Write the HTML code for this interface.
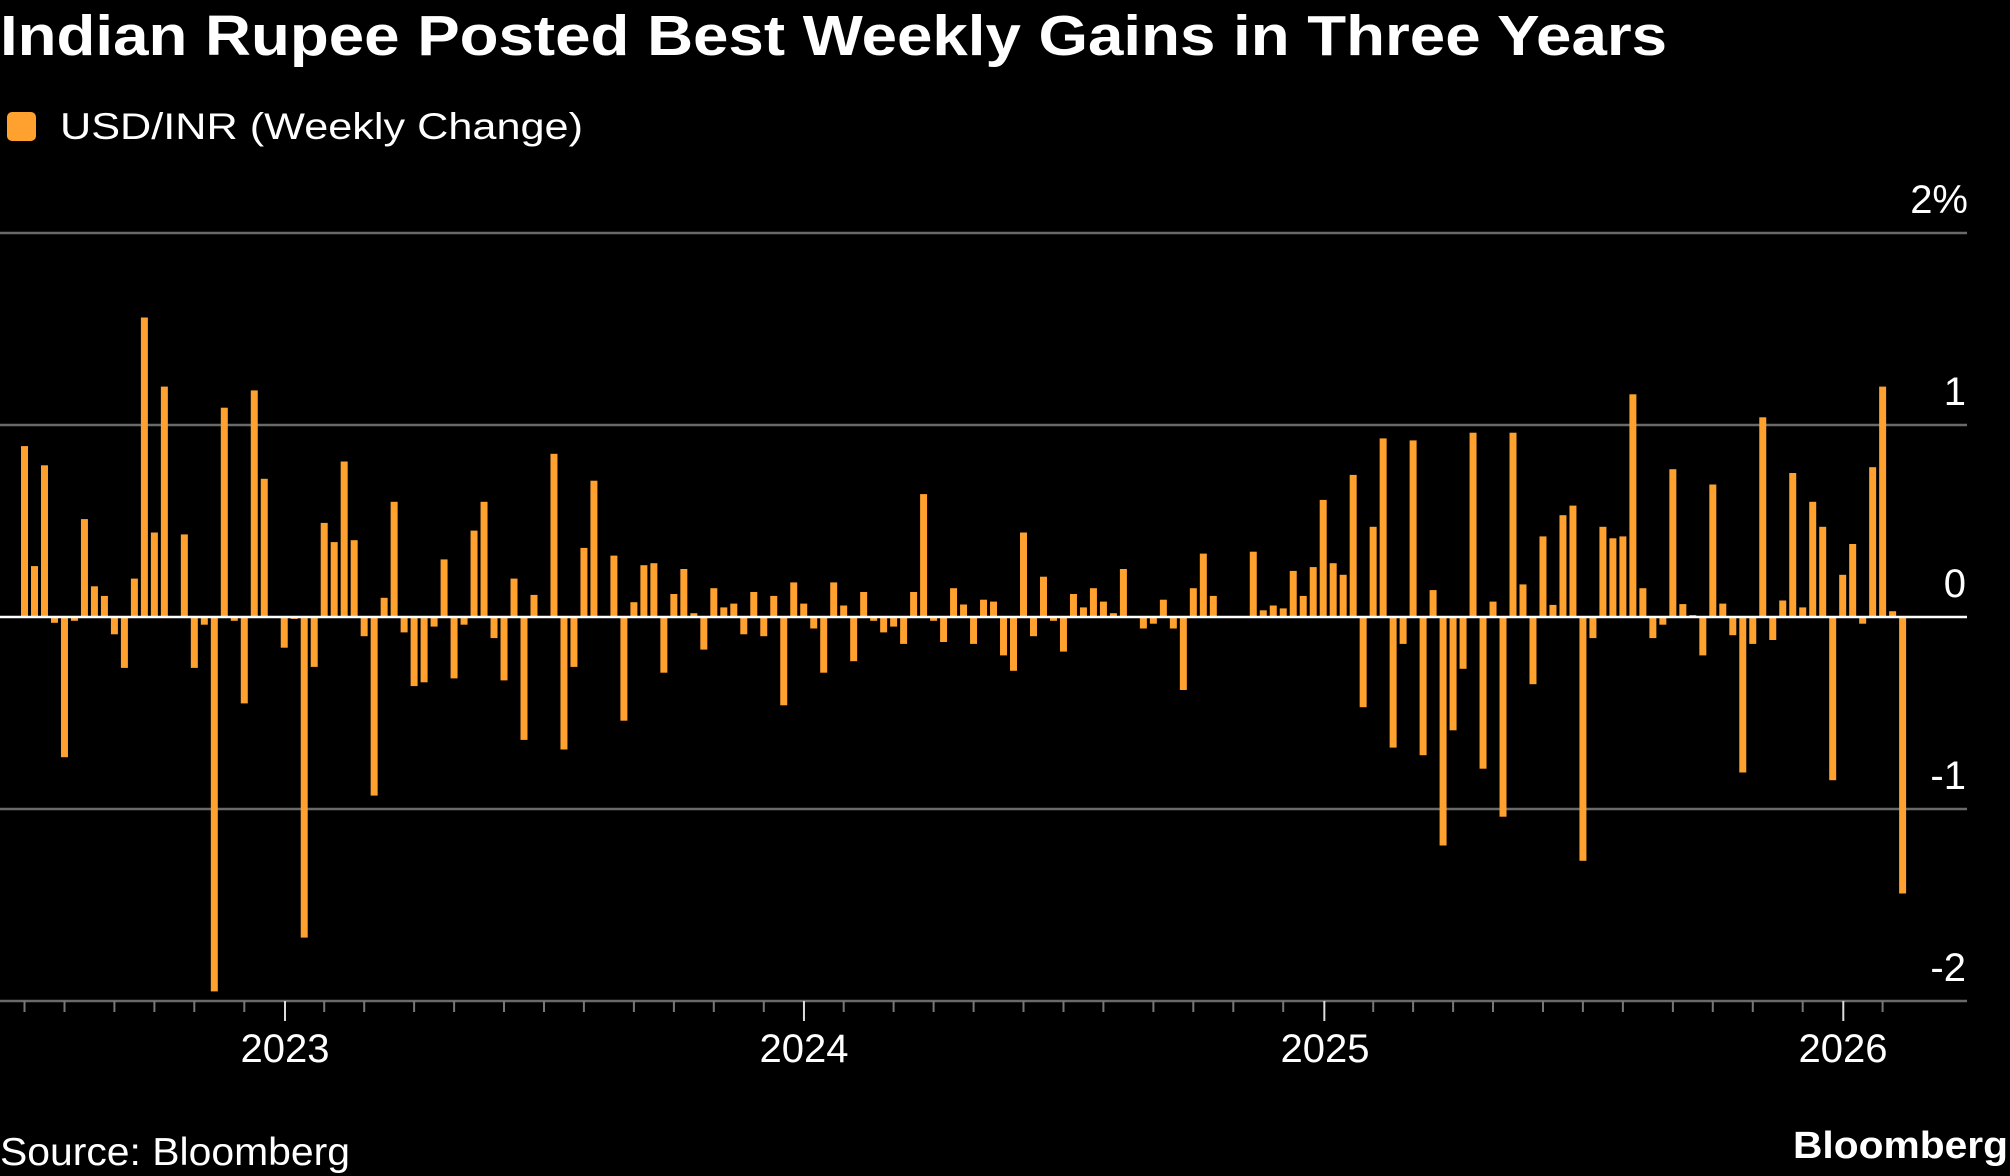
<!DOCTYPE html>
<html><head><meta charset="utf-8"><style>
html,body{margin:0;padding:0;background:#000;}
svg{display:block;}
text{font-family:"Liberation Sans",sans-serif;fill:#fff;}
</style></head><body>
<svg id="c" width="2010" height="1176" viewBox="0 0 2010 1176" xmlns="http://www.w3.org/2000/svg">
<rect width="2010" height="1176" fill="#000"/>
<text x="0" y="55" font-size="57" font-weight="bold" textLength="1667" lengthAdjust="spacingAndGlyphs">Indian Rupee Posted Best Weekly Gains in Three Years</text>
<rect x="7" y="112" width="29" height="29" rx="5" fill="#FFA12E"/>
<text x="60" y="139" font-size="37" textLength="523" lengthAdjust="spacingAndGlyphs">USD/INR (Weekly Change)</text>
<g stroke="#6a6a6a" stroke-width="2.5">
<line x1="0" y1="233" x2="1967" y2="233"/>
<line x1="0" y1="425" x2="1967" y2="425"/>
<line x1="0" y1="809" x2="1967" y2="809"/>
<line x1="0" y1="1001" x2="1967" y2="1001"/>
</g>
<g font-size="40" text-anchor="end">
<text x="1968" y="213">2%</text>
<text x="1966" y="405">1</text>
<text x="1966" y="597">0</text>
<text x="1966" y="789">-1</text>
<text x="1966" y="981">-2</text>
</g>
<g id="bars" fill="#FFA12E"></g>
<line x1="0" y1="617" x2="1967" y2="617" stroke="#fff" stroke-width="2.5"/>
<g id="ticks"></g>
<g font-size="40" text-anchor="middle">
<text x="285" y="1062">2023</text>
<text x="804" y="1062">2024</text>
<text x="1325" y="1062">2025</text>
<text x="1843" y="1062">2026</text>
</g>
<text x="0" y="1165" font-size="39" textLength="350" lengthAdjust="spacingAndGlyphs">Source: Bloomberg</text>
<text x="2008" y="1158" font-size="38" font-weight="bold" text-anchor="end" textLength="215" lengthAdjust="spacingAndGlyphs">Bloomberg</text>
</svg>
<script>
var v=[0.89,0.265,0.79,-0.03,-0.73,-0.02,0.51,0.16,0.11,-0.09,-0.265,0.2,1.56,0.44,1.2,0.005,0.43,-0.265,-0.04,-1.95,1.09,-0.02,-0.45,1.18,0.72,0,-0.16,-0.01,-1.67,-0.26,0.49,0.39,0.81,0.40,-0.10,-0.93,0.10,0.60,-0.08,-0.36,-0.34,-0.05,0.30,-0.32,-0.04,0.45,0.60,-0.11,-0.33,0.2,
-0.64,0.115,0.003,0.85,-0.69,-0.26,0.36,0.71,0,0.32,-0.54,0.077,0.27,0.28,-0.29,0.12,0.25,0.02,-0.17,0.15,0.05,0.07,-0.09,0.13,-0.10,0.11,-0.46,0.18,0.07,-0.06,-0.29,0.18,0.06,-0.23,0.13,-0.02,-0.08,-0.05,-0.14,0.13,0.64,-0.02,-0.13,0.15,0.065,-0.14,0.09,0.08,-0.20,-0.28,
0.44,-0.10,0.21,-0.02,-0.18,0.12,0.05,0.15,0.08,0.02,0.25,0,-0.06,-0.035,0.09,-0.06,-0.38,0.15,0.33,0.11,0,0.005,0,0.34,0.035,0.06,0.045,0.24,0.11,0.26,0.61,0.28,0.22,0.74,-0.47,0.47,0.93,-0.68,-0.14,0.92,-0.72,0.14,-1.19,-0.59,-0.27,0.96,-0.79,0.08,-1.04,0.96,
0.17,-0.35,0.42,0.063,0.53,0.58,-1.27,-0.11,0.47,0.41,0.42,1.16,0.15,-0.11,-0.04,0.77,0.067,0.01,-0.20,0.69,0.07,-0.095,-0.81,-0.14,1.04,-0.12,0.086,0.75,0.05,0.60,0.47,-0.85,0.22,0.38,-0.035,0.78,1.20,0.03,-1.44];
var g=document.getElementById("bars"),s="";
for(var i=0;i<v.length;i++){var x=21+9.99*i,h=Math.abs(v[i])*192,y=v[i]>=0?617-h:617;if(h<1)h=1;
s+='<rect x="'+x.toFixed(2)+'" y="'+y.toFixed(1)+'" width="7" height="'+h.toFixed(1)+'"/>';}
g.innerHTML=s;
var t="",d0=Date.UTC(2023,0,1);
for(var yr=2022;yr<=2026;yr++)for(var m=0;m<12;m++){
 if(yr==2022&&m<6)continue; if(yr==2026&&m>1)continue;
 var days=(Date.UTC(yr,m,1)-d0)/864e5, px=285+days*1.4218;
 var k=Math.round((px-24.5)/9.99), x=24.5+9.99*k;
 if(m==0){x=px;t+='<line x1="'+x+'" y1="1001" x2="'+x+'" y2="1021" stroke="#ddd" stroke-width="2"/>';}
 else t+='<line x1="'+x.toFixed(1)+'" y1="1001" x2="'+x.toFixed(1)+'" y2="1012" stroke="#777" stroke-width="2"/>';
}
document.getElementById("ticks").innerHTML=t;
</script>
</body></html>
